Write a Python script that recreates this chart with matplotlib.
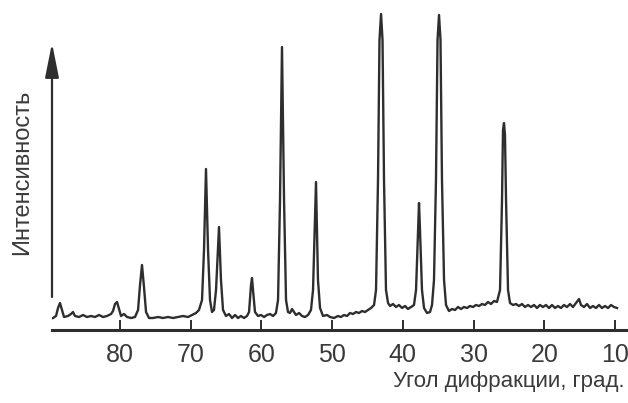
import matplotlib
matplotlib.use("Agg")
import matplotlib.pyplot as plt
from matplotlib.patches import FancyArrowPatch

plt.rcParams['font.family'] = ['Liberation Sans', 'DejaVu Sans']

# Diffraction trace: angle (degrees 2θ) and recorded intensity (arbitrary units)
angle = [89.48, 89.05, 88.77, 88.49, 88.20, 87.92, 87.36, 86.93, 86.65, 86.37,
         85.80, 85.23, 84.67, 84.10, 83.54, 82.97, 82.40, 81.84, 81.27, 80.99,
         80.71, 80.42, 80.14, 79.86, 79.43, 79.01, 78.44, 77.88, 77.45, 77.17,
         76.89, 76.61, 76.32, 75.90,
         75.33, 74.63, 73.92, 73.21, 72.50, 71.80, 71.09, 70.38, 69.82, 69.25,
         68.83, 68.40, 68.12, 67.84, 67.55, 67.27, 66.99, 66.71, 66.42, 66.00,
         65.72, 65.43, 65.01, 64.58, 64.16, 63.73, 63.31, 62.89, 62.46, 62.04,
         61.75, 61.47, 61.33, 61.19, 60.91, 60.48, 60.06, 59.63, 59.21, 58.78,
         58.36, 57.94, 57.65, 57.37, 57.09, 56.80, 56.52, 56.24, 55.96, 55.67,
         55.39, 55.11, 54.68, 54.26, 53.83, 53.41, 52.99, 52.70, 52.28, 52.00,
         51.71, 51.29, 50.72, 50.30, 49.73, 49.17, 48.74, 48.32, 47.89, 47.47,
         47.05, 46.62, 46.20, 45.77, 45.35, 44.92, 44.50, 44.07, 43.79, 43.51,
         43.30, 43.08, 42.87, 42.66, 42.38, 42.09, 41.81, 41.39, 40.96, 40.54,
         40.11, 39.69, 39.27, 38.84, 38.42, 38.13, 37.85, 37.71, 37.57, 37.29,
         37.00, 36.58, 36.15, 35.87, 35.59, 35.31, 35.09, 34.88, 34.67, 34.46,
         34.17, 33.89, 33.47, 33.04, 32.62, 32.19, 31.77, 31.35, 30.92, 30.50,
         30.07, 29.65, 29.22, 28.80, 28.38, 27.95, 27.53, 27.10, 26.68, 26.25,
         25.97, 25.83, 25.69, 25.55, 25.40, 25.12, 24.84, 24.41, 23.99, 23.57,
         23.14, 22.72, 22.29, 21.87, 21.44, 21.02, 20.60, 20.17, 19.75, 19.32,
         18.90, 18.47, 18.05, 17.63, 17.20, 16.78, 16.35, 15.93, 15.50, 15.08,
         14.80, 14.37, 13.95, 13.52, 13.10, 12.68, 12.25, 11.83, 11.40, 10.98,
         10.55, 10.13, 9.70]

intensity = [12, 14, 22, 27, 20, 13, 14, 16, 18, 14,
             13, 15, 13, 14, 13, 15, 13, 14, 16, 19,
             26, 28, 21, 14, 16, 13, 12, 13, 20, 45,
             65, 43, 18, 12,
             12, 13, 12, 13, 12, 13, 14, 13, 15, 17,
             20, 30, 80, 161, 80, 30, 18, 20, 40, 103,
             50, 20, 14, 16, 12, 15, 12, 14, 12, 14,
             18, 45, 52, 40, 18, 14, 15, 13, 15, 16,
             14, 17, 30, 130, 283, 130, 30, 18, 17, 21,
             18, 15, 17, 14, 13, 15, 20, 40, 148, 50,
             22, 14, 15, 13, 12, 14, 13, 15, 14, 17,
             16, 18, 17, 19, 18, 20, 22, 25, 40, 150,
             290, 316, 290, 150, 40, 27, 24, 26, 23, 25,
             22, 24, 21, 23, 25, 40, 100, 127, 100, 40,
             22, 17, 18, 25, 50, 150, 290, 315, 290, 150,
             50, 25, 19, 21, 20, 23, 21, 23, 22, 24,
             23, 25, 24, 26, 25, 28, 26, 29, 28, 40,
             130, 200, 207, 195, 130, 40, 27, 25, 26, 24,
             26, 23, 25, 23, 25, 22, 25, 23, 25, 22,
             25, 22, 24, 22, 25, 23, 26, 23, 27, 31,
             25, 23, 26, 22, 24, 22, 25, 22, 24, 22,
             25, 23, 22]

tick_values = [80, 70, 60, 50, 40, 30, 20, 10]
x_label = "Угол дифракции, град."
y_label = "Интенсивность"

ink = "#2e2e2e"
text_ink = "#3a3a3a"

fig = plt.figure(figsize=(6.28, 4.03), dpi=100)
fig.patch.set_facecolor("white")
ax = fig.add_axes([52 / 628, 73 / 403, 1 - 52 / 628, 1 - 73 / 403])
ax.set_facecolor("white")

ax.plot(angle, intensity, color=ink, lw=1.7, solid_joinstyle="round")

ax.set_xlim(89.62, 8.15)
ax.set_ylim(0, 330)

for side in ("top", "right", "left"):
    ax.spines[side].set_visible(False)
ax.spines["bottom"].set_linewidth(2.2)
ax.spines["bottom"].set_color(ink)

ax.set_xticks(tick_values)
ax.set_xticklabels([str(v) for v in tick_values])
ax.tick_params(axis="x", direction="in", length=7, width=1.4, color=ink,
               labelsize=18, labelcolor=text_ink, pad=9)
ax.set_yticks([])

# Intensity arrow standing above the baseline
arrow = FancyArrowPatch((89.62, 33), (89.62, 287),
                        arrowstyle="-|>,head_length=1.4,head_width=0.28",
                        mutation_scale=15, color=ink, lw=1.6,
                        clip_on=False, shrinkA=0, shrinkB=0)
ax.add_patch(arrow)

fig.text(22 / 628, 1 - 172 / 403, y_label, rotation=90, ha="center", va="center",
         fontsize=17, color=text_ink)
fig.text(625 / 628, 1 - 382 / 403, x_label, ha="right", va="center",
         fontsize=16, color=text_ink)

fig.savefig("out.png", dpi=100, facecolor="white")
